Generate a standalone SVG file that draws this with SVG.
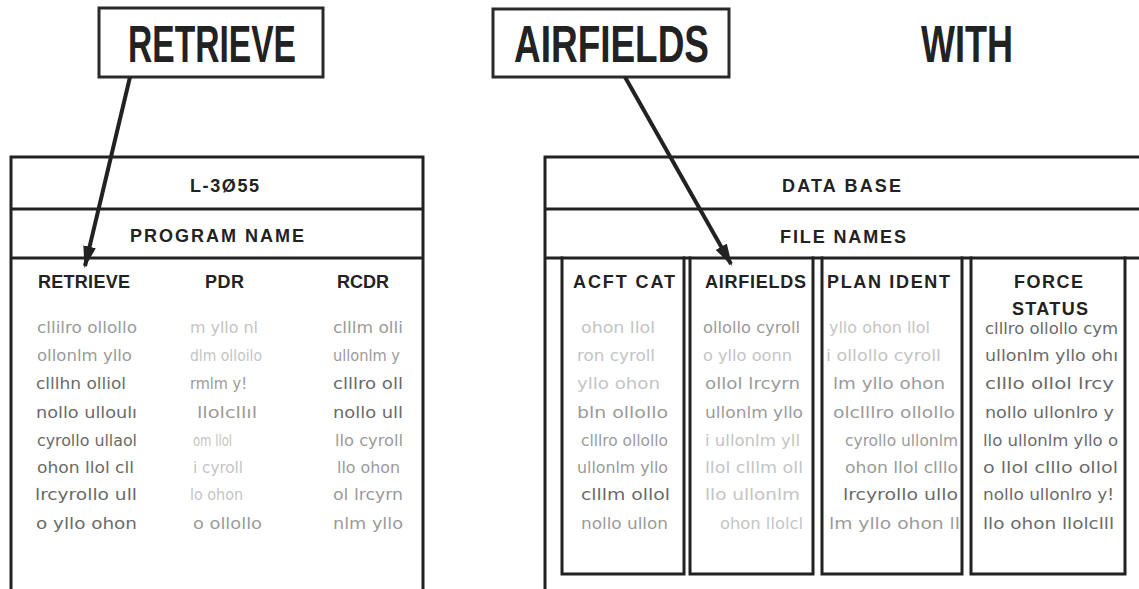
<svg xmlns="http://www.w3.org/2000/svg" width="1139" height="589" viewBox="0 0 1139 589">
  <defs>
    <marker id="ah" viewBox="0 0 10 10" refX="9" refY="5" markerWidth="5.5" markerHeight="3.2" markerUnits="strokeWidth" orient="auto" preserveAspectRatio="none">
      <path d="M0,0 L10,5 L0,10 z" fill="#222"/>
    </marker>
  </defs>
  <style>
    .ln { stroke:#222; stroke-width:3; fill:none; stroke-linecap:square; }
    .box { stroke:#2a2a2a; stroke-width:3; fill:#fff; }
    .big { font-family:"Liberation Sans Narrow","Liberation Sans",Arial,sans-serif; font-weight:bold; font-size:51px; fill:#222; }
    .hd { font-family:"Liberation Sans",Arial,sans-serif; font-weight:bold; font-size:18px; fill:#222; }
    .gk { font-family:"DejaVu Sans Condensed","Liberation Sans Narrow",sans-serif; font-size:16px; }
    .g1 { fill:#c4c4c4; }
    .g2 { fill:#9a9a9a; }
    .g3 { fill:#6a6a6a; }
    .conn { stroke:#222; stroke-width:4; fill:none; }
  </style>
  <rect width="1139" height="589" fill="#fff"/>

  <g id="label-retrieve">
    <rect class="box" x="99" y="8" width="224" height="69"/>
    <text class="big" x="128" y="62" textLength="168" lengthAdjust="spacingAndGlyphs">RETRIEVE</text>
  </g>
  <g id="label-airfields">
    <rect class="box" x="493" y="9" width="236" height="68"/>
    <text class="big" x="514" y="62" textLength="195" lengthAdjust="spacingAndGlyphs">AIRFIELDS</text>
  </g>
  <g id="label-with">
    <text class="big" x="921" y="62" textLength="92" lengthAdjust="spacingAndGlyphs">WITH</text>
  </g>

  <g id="table-program">
    <path class="ln" d="M11,589 V157 H423 V589 M11,209 H423 M11,258 H423"/>
    <text class="hd" x="190" y="192" textLength="69" lengthAdjust="spacing">L-3Ø55</text>
    <text class="hd" x="130" y="242" textLength="174" lengthAdjust="spacing">PROGRAM NAME</text>
    <text class="hd" x="38" y="288" textLength="92" lengthAdjust="spacing">RETRIEVE</text>
    <text class="hd" x="205" y="288" textLength="39" lengthAdjust="spacing">PDR</text>
    <text class="hd" x="337" y="288" textLength="52" lengthAdjust="spacing">RCDR</text>
    <g class="gk">
      <text class="g2" x="37" y="333" textLength="100" lengthAdjust="spacingAndGlyphs">cllilro ollollo</text>
      <text class="g2" x="37" y="361" textLength="95" lengthAdjust="spacingAndGlyphs">ollonlm yllo</text>
      <text class="g3" x="36" y="389" textLength="90" lengthAdjust="spacingAndGlyphs">clllhn olliol</text>
      <text class="g3" x="36" y="418" textLength="101" lengthAdjust="spacingAndGlyphs">nollo ulloulı</text>
      <text class="g3" x="37" y="446" textLength="100" lengthAdjust="spacingAndGlyphs">cyrollo ullaol</text>
      <text class="g3" x="37" y="473" textLength="97" lengthAdjust="spacingAndGlyphs">ohon llol cll</text>
      <text class="g3" x="35" y="500" textLength="102" lengthAdjust="spacingAndGlyphs">lrcyrollo ull</text>
      <text class="g3" x="36" y="529" textLength="101" lengthAdjust="spacingAndGlyphs">o yllo ohon</text>

      <text class="g1" x="190" y="333" textLength="68" lengthAdjust="spacingAndGlyphs">m yllo nl</text>
      <text class="g1" x="190" y="361" textLength="72" lengthAdjust="spacingAndGlyphs">dlm olloilo</text>
      <text class="g2" x="190" y="389" textLength="57" lengthAdjust="spacingAndGlyphs">rmlm y!</text>
      <text class="g2" x="197" y="418" textLength="60" lengthAdjust="spacingAndGlyphs">llolcllıl</text>
      <text class="g1" x="193" y="446" textLength="39" lengthAdjust="spacingAndGlyphs">om llol</text>
      <text class="g1" x="193" y="473" textLength="50" lengthAdjust="spacingAndGlyphs">i cyroll</text>
      <text class="g1" x="190" y="500" textLength="53" lengthAdjust="spacingAndGlyphs">lo ohon</text>
      <text class="g2" x="193" y="529" textLength="69" lengthAdjust="spacingAndGlyphs">o ollollo</text>

      <text class="g2" x="333" y="333" textLength="70" lengthAdjust="spacingAndGlyphs">clllm olli</text>
      <text class="g2" x="333" y="361" textLength="67" lengthAdjust="spacingAndGlyphs">ullonlm y</text>
      <text class="g3" x="333" y="389" textLength="70" lengthAdjust="spacingAndGlyphs">clllro oll</text>
      <text class="g3" x="333" y="418" textLength="70" lengthAdjust="spacingAndGlyphs">nollo ull</text>
      <text class="g2" x="335" y="446" textLength="68" lengthAdjust="spacingAndGlyphs">llo cyroll</text>
      <text class="g2" x="337" y="473" textLength="63" lengthAdjust="spacingAndGlyphs">llo ohon</text>
      <text class="g2" x="333" y="500" textLength="70" lengthAdjust="spacingAndGlyphs">ol lrcyrn</text>
      <text class="g2" x="333" y="529" textLength="70" lengthAdjust="spacingAndGlyphs">nlm yllo</text>
    </g>
  </g>

  <g id="table-database">
    <path class="ln" d="M545,589 V157 H1139 M545,209 H1139 M545,258 H1139"/>
    <text class="hd" x="782" y="192" textLength="119" lengthAdjust="spacing">DATA BASE</text>
    <text class="hd" x="780" y="243" textLength="126" lengthAdjust="spacing">FILE NAMES</text>
  </g>

  <g id="file-acft-cat">
    <path class="ln" d="M562,258 V574 H684 V258"/>
    <text class="hd" x="573" y="288" textLength="102" lengthAdjust="spacing">ACFT CAT</text>
    <g class="gk">
      <text class="g1" x="581" y="333" textLength="74" lengthAdjust="spacingAndGlyphs">ohon llol</text>
      <text class="g1" x="577" y="361" textLength="78" lengthAdjust="spacingAndGlyphs">ron cyroll</text>
      <text class="g1" x="577" y="389" textLength="83" lengthAdjust="spacingAndGlyphs">yllo ohon</text>
      <text class="g2" x="577" y="418" textLength="91" lengthAdjust="spacingAndGlyphs">bln ollollo</text>
      <text class="g2" x="581" y="446" textLength="87" lengthAdjust="spacingAndGlyphs">clllro ollollo</text>
      <text class="g2" x="577" y="473" textLength="91" lengthAdjust="spacingAndGlyphs">ullonlm yllo</text>
      <text class="g3" x="581" y="500" textLength="89" lengthAdjust="spacingAndGlyphs">clllm ollol</text>
      <text class="g2" x="581" y="529" textLength="87" lengthAdjust="spacingAndGlyphs">nollo ullon</text>
    </g>
  </g>

  <g id="file-airfields">
    <path class="ln" d="M690,258 V574 H813 V258"/>
    <text class="hd" x="705" y="288" textLength="101" lengthAdjust="spacing">AIRFIELDS</text>
    <g class="gk">
      <text class="g2" x="703" y="333" textLength="97" lengthAdjust="spacingAndGlyphs">ollollo cyroll</text>
      <text class="g1" x="703" y="361" textLength="89" lengthAdjust="spacingAndGlyphs">o yllo oonn</text>
      <text class="g2" x="705" y="389" textLength="95" lengthAdjust="spacingAndGlyphs">ollol lrcyrn</text>
      <text class="g2" x="705" y="418" textLength="98" lengthAdjust="spacingAndGlyphs">ullonlm yllo</text>
      <text class="g1" x="705" y="446" textLength="95" lengthAdjust="spacingAndGlyphs">i ullonlm yll</text>
      <text class="g1" x="705" y="473" textLength="98" lengthAdjust="spacingAndGlyphs">llol clllm oll</text>
      <text class="g1" x="705" y="500" textLength="95" lengthAdjust="spacingAndGlyphs">llo ullonlm</text>
      <text class="g1" x="720" y="529" textLength="83" lengthAdjust="spacingAndGlyphs">ohon llolcl</text>
    </g>
  </g>

  <g id="file-plan-ident">
    <path class="ln" d="M822,258 V574 H962 V258"/>
    <text class="hd" x="827" y="288" textLength="123" lengthAdjust="spacing">PLAN IDENT</text>
    <g class="gk">
      <text class="g1" x="829" y="333" textLength="101" lengthAdjust="spacingAndGlyphs">yllo ohon llol</text>
      <text class="g1" x="826" y="361" textLength="115" lengthAdjust="spacingAndGlyphs">i ollollo cyroll</text>
      <text class="g2" x="833" y="389" textLength="112" lengthAdjust="spacingAndGlyphs">lm yllo ohon</text>
      <text class="g2" x="833" y="418" textLength="122" lengthAdjust="spacingAndGlyphs">olclllro ollollo</text>
      <text class="g2" x="845" y="446" textLength="113" lengthAdjust="spacingAndGlyphs">cyrollo ullonlm</text>
      <text class="g2" x="845" y="473" textLength="113" lengthAdjust="spacingAndGlyphs">ohon llol clllo</text>
      <text class="g3" x="843" y="500" textLength="115" lengthAdjust="spacingAndGlyphs">lrcyrollo ullo</text>
      <text class="g2" x="829" y="529" textLength="131" lengthAdjust="spacingAndGlyphs">lm yllo ohon ll</text>
    </g>
  </g>

  <g id="file-force-status">
    <path class="ln" d="M971,258 V574 H1125 V258"/>
    <text class="hd" x="1014" y="288" textLength="69" lengthAdjust="spacing">FORCE</text>
    <text class="hd" x="1012" y="315" textLength="76" lengthAdjust="spacing">STATUS</text>
    <g class="gk">
      <text class="g3" x="985" y="334" textLength="133" lengthAdjust="spacingAndGlyphs">clllro ollollo cym</text>
      <text class="g3" x="985" y="361" textLength="133" lengthAdjust="spacingAndGlyphs">ullonlm yllo ohı</text>
      <text class="g3" x="985" y="389" textLength="129" lengthAdjust="spacingAndGlyphs">clllo ollol lrcy</text>
      <text class="g3" x="985" y="418" textLength="129" lengthAdjust="spacingAndGlyphs">nollo ullonlro y</text>
      <text class="g3" x="983" y="446" textLength="135" lengthAdjust="spacingAndGlyphs">llo ullonlm yllo o</text>
      <text class="g3" x="983" y="473" textLength="135" lengthAdjust="spacingAndGlyphs">o llol clllo ollol</text>
      <text class="g3" x="983" y="500" textLength="131" lengthAdjust="spacingAndGlyphs">nollo ullonlro y!</text>
      <text class="g3" x="983" y="529" textLength="131" lengthAdjust="spacingAndGlyphs">llo ohon llolclll</text>
    </g>
  </g>

  <g id="connectors">
    <line class="conn" x1="130" y1="77" x2="85" y2="266" marker-end="url(#ah)"/>
    <line class="conn" x1="625" y1="77" x2="731" y2="264" marker-end="url(#ah)"/>
  </g>
</svg>
